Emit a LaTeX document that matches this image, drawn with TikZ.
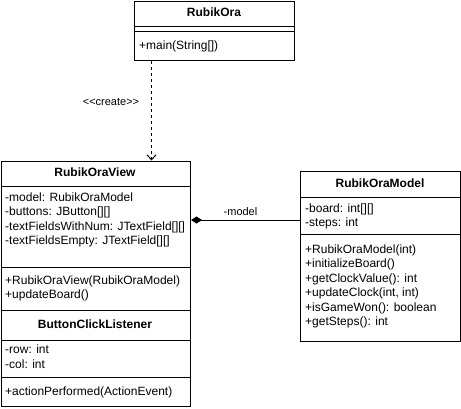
\documentclass[tikz,border=0pt]{standalone}
\usepackage{fontspec}
\setmainfont{Liberation Sans}[Ligatures=TeXOff]
\usetikzlibrary{arrows.meta,calc}
\begin{document}
\begin{tikzpicture}[x=1pt,y=-1pt,
  box/.style={draw, line width=1pt, inner sep=0pt, anchor=north west},
  sepline/.style={line width=1pt},
  title/.style={font=\bfseries\fontsize{12}{14.5}\selectfont, anchor=center, inner sep=0pt, text height=9pt, text depth=3pt},
  member/.style={font=\fontsize{12}{14.5}\selectfont, anchor=west, inner sep=0pt, text height=9pt, text depth=3pt},
  lbl/.style={font=\fontsize{11}{13}\selectfont, inner sep=0pt, text height=8pt, text depth=2.5pt},
]
\useasboundingbox (0,0) rectangle (461,408);

% RubikOra
\node[box, minimum width=160pt, minimum height=59pt] (ora) at (134,1) {};
\draw[sepline] ($(ora.north west)+(0,25)$) -- ($(ora.north east)+(0,25)$);
\draw[sepline] ($(ora.north west)+(0,30)$) -- ($(ora.north east)+(0,30)$);
\node[title] (oraT) at (214,13.5) {RubikOra};
\node[member] (oraM1) at (139,46) {+main(String[])};

% RubikOraView + ButtonClickListener
\node[box, minimum width=189.5pt, minimum height=245.5pt] (view) at (0.5,160.5) {};
\draw[sepline] ($(view.north west)+(0,25.5)$) -- ($(view.north east)+(0,25.5)$);
\draw[sepline] ($(view.north west)+(0,106.5)$) -- ($(view.north east)+(0,106.5)$);
\draw[sepline] ($(view.north west)+(0,149.5)$) -- ($(view.north east)+(0,149.5)$);
\draw[sepline] ($(view.north west)+(0,179.5)$) -- ($(view.north east)+(0,179.5)$);
\draw[sepline] ($(view.north west)+(0,216.5)$) -- ($(view.north east)+(0,216.5)$);
\node[title] (viewT) at (95,173) {RubikOraView};
\node[member] (viewA1) at (5,198) {-model: RubikOraModel};
\node[member] (viewA2) at (5,212.5) {-buttons: JButton[][]};
\node[member] (viewA3) at (5,227) {-textFieldsWithNum: JTextField[][]};
\node[member] (viewA4) at (5,241.5) {-textFieldsEmpty: JTextField[][]};
\node[member] (viewM1) at (5,281) {+RubikOraView(RubikOraModel)};
\node[member] (viewM2) at (5,295.5) {+updateBoard()};
\node[title] (bclT) at (95,325) {ButtonClickListener};
\node[member] (bclA1) at (5,350.5) {-row: int};
\node[member] (bclA2) at (5,365) {-col: int};
\node[member] (bclM1) at (5,392) {+actionPerformed(ActionEvent)};

% RubikOraModel
\node[box, minimum width=160pt, minimum height=170pt] (model) at (300,171) {};
\draw[sepline] ($(model.north west)+(0,26)$) -- ($(model.north east)+(0,26)$);
\draw[sepline] ($(model.north west)+(0,63)$) -- ($(model.north east)+(0,63)$);
\node[title] (modelT) at (380,184) {RubikOraModel};
\node[member] (modelA1) at (305,209) {-board: int[][]};
\node[member] (modelA2) at (305,223.5) {-steps: int};
\node[member] (modelM1) at (305,250) {+RubikOraModel(int)};
\node[member] (modelM2) at (305,264.5) {+initializeBoard()};
\node[member] (modelM3) at (305,279) {+getClockValue(): int};
\node[member] (modelM4) at (305,293.5) {+updateClock(int, int)};
\node[member] (modelM5) at (305,308) {+isGameWon(): boolean};
\node[member] (modelM6) at (305,322.5) {+getSteps(): int};

% create dependency
\coordinate (crt) at ($(ora.south west)+(17.5,0)$);
\draw[line width=1pt, dash pattern=on 3pt off 3pt, -{Straight Barb[length=5pt,width=9pt]}] (crt) -- (crt |- view.north);
\node[lbl] (crtL) at (111,103) {<<create>>};

% composition
\draw[line width=1pt, {Diamond[length=11pt,width=7pt]}-] (view.east |- 0,220) -- (model.west |- 0,220);
\node[lbl] (modL) at (240.5,213) {-model};
\end{tikzpicture}
\end{document}
